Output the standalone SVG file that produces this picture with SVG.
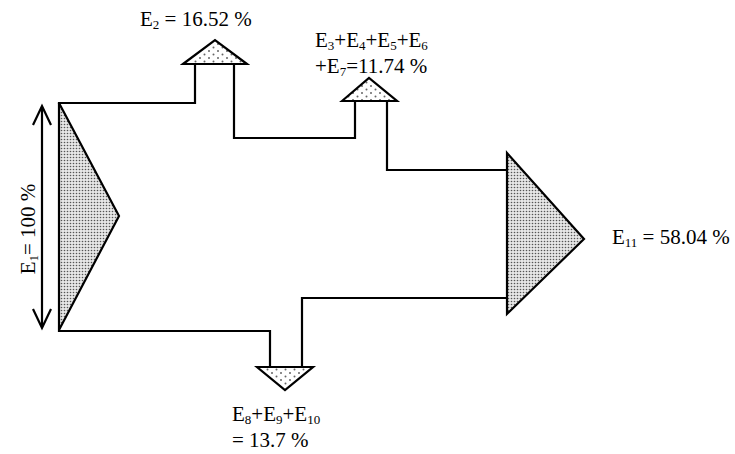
<svg xmlns="http://www.w3.org/2000/svg" width="735" height="454" viewBox="0 0 735 454">
<style>
.ln{fill:none;stroke:#000;stroke-width:2.2;stroke-linecap:square;stroke-linejoin:miter}
.tri{stroke:#000;stroke-width:2.2;stroke-linejoin:miter}
.big{fill:url(#dense)}
.small{fill:url(#sparse)}
text{font-family:"Liberation Serif","Times New Roman",serif;font-size:21px;fill:#000}
.sub{font-size:13px}
</style>
<defs>
<pattern id="dense" width="3" height="3" patternUnits="userSpaceOnUse">
<rect width="3" height="3" fill="#e6e6e6"/>
<circle cx="1.5" cy="1.5" r="0.8" fill="#555"/>
</pattern>
<pattern id="sparse" width="9" height="7" patternUnits="userSpaceOnUse">
<rect width="9" height="7" fill="#fff"/>
<circle cx="2" cy="2" r="1" fill="#666"/>
<circle cx="6.5" cy="5.5" r="1" fill="#666"/>
</pattern>
</defs>
<g id="connectors">
<polyline class="ln" points="59,103 195,103 195,64"/>
<polyline class="ln" points="234,64 234,138 355,138 355,101"/>
<polyline class="ln" points="387,101 387,170 507,170"/>
<polyline class="ln" points="507,298 302,298 302,367"/>
<polyline class="ln" points="59,331 270,331 270,367"/>
</g>
<g id="E1">
<polygon class="tri big" points="59,103 119,216 59,330"/>
<path d="M42,106 V328 M33,125 L42,106 L51,125 M33,309 L42,328 L51,309" fill="none" stroke="#000" stroke-width="2.2"/>
<text transform="translate(35,229) rotate(-90)" text-anchor="middle">E<tspan class="sub" dy="3">1</tspan><tspan dy="-3">= 100 %</tspan></text>
</g>
<g id="E2">
<polygon class="tri small" points="183,64 215,40 247,64"/>
<text x="140" y="26">E<tspan class="sub" dy="3">2</tspan><tspan dy="-3"> = 16.52 %</tspan></text>
</g>
<g id="E3-7">
<polygon class="tri small" points="342,101 369,78 397,101"/>
<text x="315" y="47">E<tspan class="sub" dy="3">3</tspan><tspan dy="-3">+E</tspan><tspan class="sub" dy="3">4</tspan><tspan dy="-3">+E</tspan><tspan class="sub" dy="3">5</tspan><tspan dy="-3">+E</tspan><tspan class="sub" dy="3">6</tspan></text>
<text x="315" y="73">+E<tspan class="sub" dy="3">7</tspan><tspan dy="-3">=11.74 %</tspan></text>
</g>
<g id="E11">
<polygon class="tri big" points="507,153 584,239 507,314"/>
<text x="612" y="244">E<tspan class="sub" dy="3">11</tspan><tspan dy="-3"> = 58.04 %</tspan></text>
</g>
<g id="E8-10">
<polygon class="tri small" points="257,367 313,367 285,390"/>
<text x="232" y="421">E<tspan class="sub" dy="3">8</tspan><tspan dy="-3">+E</tspan><tspan class="sub" dy="3">9</tspan><tspan dy="-3">+E</tspan><tspan class="sub" dy="3">10</tspan></text>
<text x="232" y="447">= 13.7 %</text>
</g>
</svg>
